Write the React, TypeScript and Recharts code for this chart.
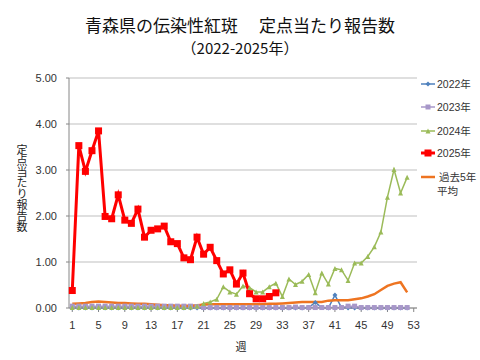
import React from 'react';
import { LineChart, Line, XAxis, YAxis, CartesianGrid } from 'recharts';

const weeks = [1,2,3,4,5,6,7,8,9,10,11,12,13,14,15,16,17,18,19,20,21,22,23,24,25,26,27,28,29,30,31,32,33,34,35,36,37,38,39,40,41,42,43,44,45,46,47,48,49,50,51,52,53];

const y2022 = [0,0,0,0,0,0,0,0,0,0,0,0,0,0,0,0,0,0,0,0,0,0,0,0,0,0,0,0,0,0,0,0,0,0,0,0,0.01,0.12,0.01,0,0.28,0.01,0,0,0,0,0,0,0,0,0,0];
const y2023 = [0.04,0.04,0.04,0.04,0.04,0.04,0.04,0.04,0.04,0.04,0.04,0.04,0.04,0.04,0.04,0.04,0.04,0.04,0.04,0.03,0.01,0.01,0.01,0.01,0.01,0.01,0.01,0.01,0.01,0.01,0.01,0.01,0.01,0.01,0.02,0.01,0.01,0.01,0.01,0.01,0.01,0.01,0.04,0.04,0.01,0.01,0.01,0.01,0.01,0.01,0.01,0.01];
const y2024 = [0.01,0.01,0.01,0.01,0.01,0.01,0.01,0.01,0.01,0.01,0.01,0.01,0.01,0.01,0.01,0.01,0.01,0.01,0.02,0.04,0.10,0.13,0.19,0.46,0.35,0.30,0.48,0.44,0.35,0.35,0.46,0.54,0.25,0.63,0.51,0.58,0.73,0.33,0.76,0.52,0.86,0.83,0.60,0.98,0.98,1.12,1.33,1.65,2.41,3.01,2.50,2.84];
const y2025 = [0.38,3.53,2.97,3.42,3.85,1.99,1.94,2.46,1.91,1.84,2.15,1.54,1.69,1.72,1.78,1.44,1.40,1.09,1.05,1.54,1.17,1.32,1.03,0.74,0.83,0.52,0.76,0.31,0.20,0.20,0.25,0.33];
const yAvg = [0.09,0.10,0.11,0.13,0.14,0.13,0.12,0.11,0.11,0.10,0.09,0.09,0.08,0.07,0.06,0.06,0.05,0.05,0.05,0.06,0.07,0.08,0.08,0.08,0.08,0.08,0.08,0.08,0.08,0.08,0.09,0.09,0.10,0.11,0.12,0.13,0.13,0.13,0.13,0.16,0.17,0.17,0.17,0.19,0.21,0.25,0.30,0.39,0.48,0.53,0.56,0.34];

const yTicks = [0, 1, 2, 3, 4, 5];

const C2022 = '#4F81BD';
const C2023 = '#A797C9';
const C2024 = '#9BBB59';
const C2025 = '#FF0000';
const CAVG = '#EE7421';

const data = weeks.map((w, i) => ({
  week: String(w),
  y2022: i < y2022.length ? y2022[i] : null,
  y2023: i < y2023.length ? y2023[i] : null,
  y2024: i < y2024.length ? y2024[i] : null,
  y2025: i < y2025.length ? y2025[i] : null,
  avg: i < yAvg.length ? yAvg[i] : null,
}));

const makeDot = (shape: string, color: string, s: number) => (props: any) => {
  const { cx, cy, index, value } = props;
  if (cx == null || cy == null || value == null || isNaN(cy)) return <g key={`e-${index}`} />;
  if (shape === 'square') {
    return <rect key={`d-${index}`} x={cx - s / 2} y={cy - s / 2} width={s} height={s} fill={color} />;
  }
  if (shape === 'triangle') {
    const h = s;
    return (
      <polygon key={`d-${index}`} points={`${cx},${cy - h / 2} ${cx - h / 2},${cy + h / 2} ${cx + h / 2},${cy + h / 2}`} fill={color} />
    );
  }
  return (
    <polygon key={`d-${index}`} points={`${cx},${cy - s / 2} ${cx + s / 2},${cy} ${cx},${cy + s / 2} ${cx - s / 2},${cy}`} fill={color} />
  );
};

const FONT = '"Liberation Sans", "Noto Sans CJK JP", sans-serif';

const legendItems = [
  { label: ['2022年'], color: C2022, shape: 'diamond', w: 1.5, top: 84 },
  { label: ['2023年'], color: C2023, shape: 'square', w: 1.5, top: 107 },
  { label: ['2024年'], color: C2024, shape: 'triangle', w: 1.5, top: 131 },
  { label: ['2025年'], color: C2025, shape: 'square', w: 3, top: 153 },
  { label: ['過去5年', '平均'], color: CAVG, shape: 'none', w: 2.5, top: 177 },
];

const LegendBox = () => (
  <div style={{ position: 'absolute', left: 420, top: 0, width: 60, height: 360 }}>
    {legendItems.map((it, k) => (
      <div key={k} style={{ position: 'absolute', left: 0, top: it.top - 7, height: 14, fontSize: 10.5, fontFamily: FONT, color: '#333', whiteSpace: 'nowrap' }}>
        <svg width={16} height={14} style={{ position: 'absolute', left: 0, top: 0 }}>
          <line x1={1} y1={7} x2={15} y2={7} stroke={it.color} strokeWidth={it.w} />
          {it.shape === 'square' && <rect x={8 - (it.w > 2 ? 3.5 : 2.5)} y={7 - (it.w > 2 ? 3.5 : 2.5)} width={it.w > 2 ? 7 : 5} height={it.w > 2 ? 7 : 5} fill={it.color} />}
          {it.shape === 'triangle' && <polygon points="8,4.5 5.5,9.5 10.5,9.5" fill={it.color} />}
          {it.shape === 'diamond' && <polygon points="8,4.5 10.5,7 8,9.5 5.5,7" fill={it.color} />}
        </svg>
        <div style={{ position: 'absolute', left: 17, top: 0, lineHeight: '14px' }}>
          {it.label.map((t, j) => (
            <div key={j} style={{ marginLeft: j === 0 && it.label.length > 1 ? 2 : 0 }}>{t}</div>
          ))}
        </div>
      </div>
    ))}
  </div>
);

export default function App() {
  return (
    <div style={{ position: 'absolute', left: 0, top: 0, width: 480, height: 360, background: '#fff', fontFamily: FONT }}>
      <LineChart width={480} height={360} data={data} margin={{ top: 78, right: 63, bottom: 22, left: 0 }}>
        <CartesianGrid vertical={false} stroke="#BFBFBF" />
        <XAxis
          dataKey="week"
          interval={3}
          padding={{ left: 3.28, right: 3.28 }}
          height={30}
          axisLine={{ stroke: '#868686' }}
          tickLine={{ stroke: '#868686' }}
          tickSize={4}
          tickMargin={9}
          tick={{ fontSize: 11, fill: '#333', fontFamily: FONT }}
        />
        <YAxis
          domain={[0, 5]}
          ticks={yTicks}
          width={69}
          tickFormatter={(v: number) => v.toFixed(2)}
          axisLine={{ stroke: '#868686' }}
          tickLine={{ stroke: '#868686' }}
          tickSize={3}
          tickMargin={9}
          tick={{ fontSize: 11, fill: '#333', fontFamily: FONT }}
        />
        <Line dataKey="y2022" name="2022年" stroke={C2022} strokeWidth={1.5} dot={makeDot('diamond', C2022, 5)} activeDot={false} isAnimationActive={false} />
        <Line dataKey="y2023" name="2023年" stroke={C2023} strokeWidth={1.5} dot={makeDot('square', C2023, 5)} activeDot={false} isAnimationActive={false} />
        <Line dataKey="y2024" name="2024年" stroke={C2024} strokeWidth={1.5} dot={makeDot('triangle', C2024, 5)} activeDot={false} isAnimationActive={false} />
        <Line dataKey="y2025" name="2025年" stroke={C2025} strokeWidth={3} dot={makeDot('square', C2025, 7)} activeDot={false} isAnimationActive={false} />
        <Line dataKey="avg" name="過去5年平均" stroke={CAVG} strokeWidth={2.5} dot={false} activeDot={false} isAnimationActive={false} />
      </LineChart>
      <LegendBox />
      <div style={{ position: 'absolute', left: 0, width: 480, top: 15, textAlign: 'center', fontSize: 17, lineHeight: '20px', color: '#111', fontFamily: '"Noto Sans CJK JP", sans-serif', whiteSpace: 'pre' }}>
        {'青森県の伝染性紅斑　 定点当たり報告数'}
      </div>
      <div style={{ position: 'absolute', left: 0, width: 480, top: 38, textAlign: 'center', fontSize: 15, lineHeight: '20px', color: '#111', fontFamily: '"Noto Sans CJK JP", sans-serif' }}>
        （2022-2025年）
      </div>
      <div style={{ position: 'absolute', left: 16, top: 144, width: 12, writingMode: 'vertical-rl', fontSize: 11, lineHeight: '12px', color: '#222', fontFamily: '"Noto Sans CJK JP", sans-serif' }}>
        定点当たり報告数
      </div>
      <div style={{ position: 'absolute', left: 0, width: 482, top: 338, textAlign: 'center', fontSize: 11, lineHeight: '16px', color: '#222', fontFamily: '"Noto Sans CJK JP", sans-serif' }}>
        週
      </div>
    </div>
  );
}
